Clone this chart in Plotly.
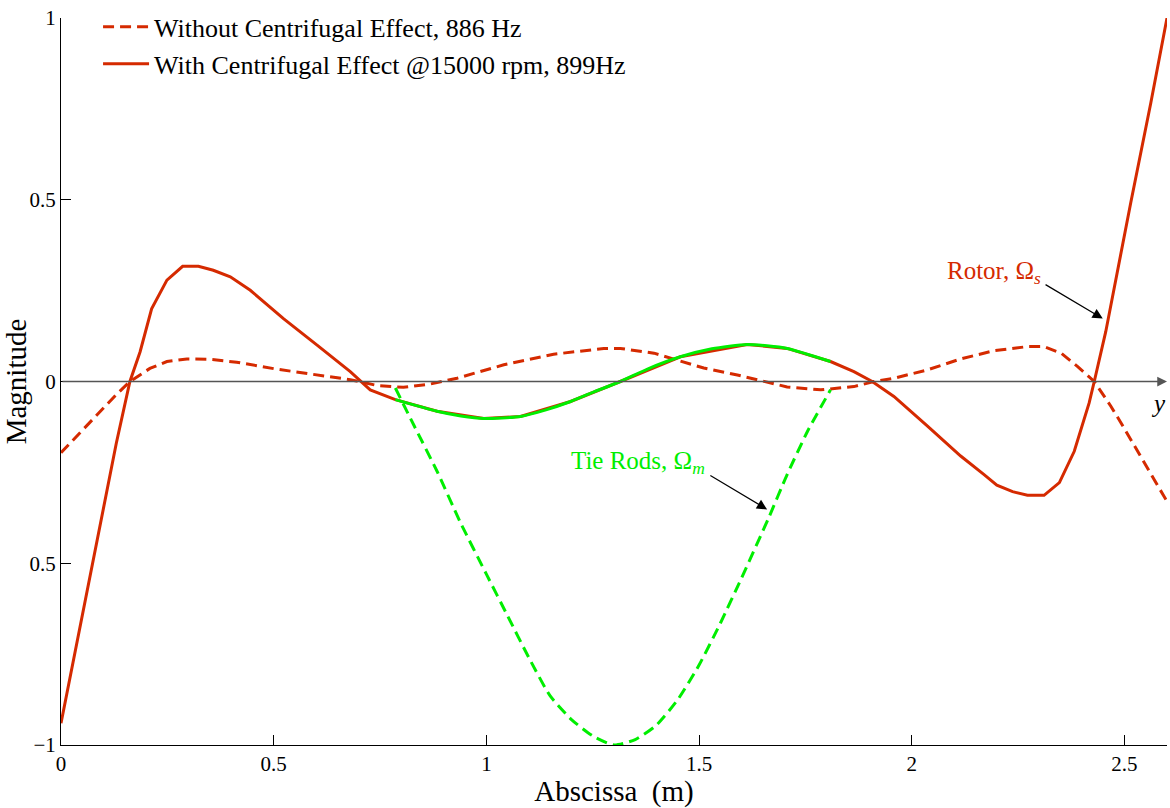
import plotly.graph_objects as go

# ---------------- data ----------------
rotor_nocf_x = [0.0, 0.05, 0.10, 0.13, 0.162, 0.209, 0.249, 0.296, 0.35, 0.413, 0.507, 0.617,
                0.68, 0.743, 0.805, 0.868, 0.931, 1.041, 1.158, 1.276, 1.315, 1.394, 1.511,
                1.59, 1.653, 1.707, 1.786, 1.864, 1.911, 1.958, 2.037, 2.115, 2.194, 2.272,
                2.311, 2.351, 2.39, 2.429, 2.468, 2.492, 2.6]
rotor_nocf_y = [-0.196, -0.135, -0.072, -0.036, 0.0, 0.036, 0.055, 0.062, 0.061, 0.053, 0.034, 0.016,
                0.005, -0.011, -0.016, -0.007, 0.009, 0.046, 0.075, 0.091, 0.091, 0.078, 0.037,
                0.018, 0.0, -0.015, -0.023, -0.014, 0.0, 0.009, 0.032, 0.062, 0.085, 0.096,
                0.096, 0.078, 0.041, 0.0, -0.068, -0.114, -0.33]

rotor_cf_x = [0.0, 0.05, 0.10, 0.13, 0.162, 0.186, 0.213, 0.249, 0.286, 0.323, 0.358, 0.398,
              0.445, 0.523, 0.602, 0.68, 0.727, 0.786, 0.884, 0.994, 1.08, 1.198, 1.315,
              1.456, 1.613, 1.707, 1.809, 1.864, 1.907, 1.958, 2.037, 2.115, 2.17, 2.2,
              2.237, 2.272, 2.311, 2.347, 2.382, 2.417, 2.429, 2.456, 2.515, 2.562, 2.6]
rotor_cf_y = [-0.94, -0.645, -0.35, -0.17, 0.0, 0.082, 0.2, 0.279, 0.317, 0.317, 0.306, 0.288,
              0.251, 0.173, 0.10, 0.027, -0.023, -0.05, -0.082, -0.102, -0.096, -0.055, 0.0,
              0.068, 0.102, 0.091, 0.055, 0.027, 0.0, -0.041, -0.123, -0.205, -0.256, -0.285,
              -0.303, -0.313, -0.313, -0.278, -0.192, -0.059, 0.0, 0.137, 0.493, 0.767, 1.0]

tie_nocf_x = [0.786, 0.829, 0.884, 0.939, 1.0, 1.05, 1.10, 1.15, 1.20, 1.25, 1.30, 1.35,
              1.40, 1.45, 1.50, 1.55, 1.60, 1.664, 1.707, 1.755, 1.809]
tie_nocf_y = [-0.018, -0.119, -0.247, -0.388, -0.53, -0.645, -0.76, -0.865, -0.93, -0.975, -1.0, -0.985,
              -0.945, -0.875, -0.78, -0.665, -0.54, -0.374, -0.256, -0.137, -0.023]

tie_cf_x = [0.786, 0.884, 0.94, 0.994, 1.08, 1.14, 1.198, 1.25, 1.315, 1.38, 1.456, 1.53,
            1.613, 1.707, 1.809]
tie_cf_y = [-0.05, -0.082, -0.095, -0.102, -0.096, -0.078, -0.055, -0.03, 0.0, 0.035, 0.068, 0.09,
            0.102, 0.091, 0.055]

x_tickvals = [0, 0.5, 1, 1.5, 2, 2.5]
x_ticktext = ["0", "0.5", "1", "1.5", "2", "2.5"]
y_tickvals = [-1, -0.5, 0, 0.5, 1]
y_ticktext = ["\u22121", "0.5", "0", "0.5", "1"]

legend_names = ["Without Centrifugal Effect, 886 Hz",
                "With Centrifugal Effect @15000 rpm, 899Hz"]

RED = "#d52a00"
GREEN = "#00ee00"
FONT = "Liberation Serif"

fig = go.Figure()
fig.add_trace(go.Scatter(x=rotor_nocf_x, y=rotor_nocf_y, mode="lines", name=legend_names[0],
                         line=dict(color=RED, width=3, dash="11px,6px")))
fig.add_trace(go.Scatter(x=rotor_cf_x, y=rotor_cf_y, mode="lines", name=legend_names[1],
                         line=dict(color=RED, width=3)))
fig.add_trace(go.Scatter(x=tie_nocf_x, y=tie_nocf_y, mode="lines", showlegend=False,
                         line=dict(color=GREEN, width=3, dash="11px,6px", shape="spline", smoothing=0.6)))
fig.add_trace(go.Scatter(x=tie_cf_x, y=tie_cf_y, mode="lines", showlegend=False,
                         line=dict(color=GREEN, width=3, shape="spline", smoothing=0.6)))

# horizontal axis at y = 0 with arrow
fig.add_annotation(x=2.6, y=0, ax=0, ay=0, xref="x", yref="y", axref="x", ayref="y",
                   text="", showarrow=True, arrowhead=2, arrowsize=1.3, arrowwidth=1.5,
                   arrowcolor="#555555")
fig.add_annotation(x=2.58, y=-0.06, xref="x", yref="y", text="<i>y</i>", showarrow=False,
                   font=dict(family=FONT, size=25, color="black"))

# labels with arrows
fig.add_annotation(x=2.449, y=0.173, ax=2.311, ay=0.269, xref="x", yref="y", axref="x", ayref="y",
                   text="", showarrow=True, arrowhead=2, arrowsize=1.7, arrowwidth=1.2,
                   arrowcolor="black")
fig.add_annotation(x=2.308, y=0.301, xref="x", yref="y", xanchor="right", yanchor="middle",
                   text="Rotor, \u03a9<sub><i>s</i></sub>", showarrow=False,
                   font=dict(family=FONT, size=25, color=RED))
fig.add_annotation(x=1.660, y=-0.352, ax=1.523, ay=-0.256, xref="x", yref="y", axref="x", ayref="y",
                   text="", showarrow=True, arrowhead=2, arrowsize=1.7, arrowwidth=1.2,
                   arrowcolor="black")
fig.add_annotation(x=1.519, y=-0.224, xref="x", yref="y", xanchor="right", yanchor="middle",
                   text="Tie Rods, \u03a9<sub><i>m</i></sub>", showarrow=False,
                   font=dict(family=FONT, size=25, color=GREEN))

fig.update_layout(
    width=1170, height=808,
    margin=dict(l=61, r=3, t=15, b=63),
    paper_bgcolor="white", plot_bgcolor="white",
    font=dict(family=FONT, size=21, color="black"),
    showlegend=True,
    legend=dict(x=0.0335, y=1.02, xanchor="left", yanchor="top", bgcolor="rgba(0,0,0,0)",
                font=dict(family=FONT, size=26), itemwidth=46, tracegroupgap=0),
    xaxis=dict(range=[0, 2.6], showgrid=False, zeroline=False, showline=True, linecolor="black",
               linewidth=1, ticks="inside", ticklen=10, tickcolor="black", automargin=False,
               tickvals=x_tickvals, ticktext=x_ticktext,
               title=dict(text="Abscissa\u00a0\u00a0(m)", font=dict(family=FONT, size=29), standoff=10)),
    yaxis=dict(range=[-1, 1], showgrid=False, zeroline=False, showline=True, linecolor="black",
               linewidth=1, ticks="inside", ticklen=10, tickcolor="black", automargin=False,
               tickvals=y_tickvals, ticktext=y_ticktext,
               title=dict(text="Magnitude", font=dict(family=FONT, size=29), standoff=6)),
)

fig.write_html("out.html", config={"displayModeBar": False},
               post_script="document.body.style.margin='0';")
